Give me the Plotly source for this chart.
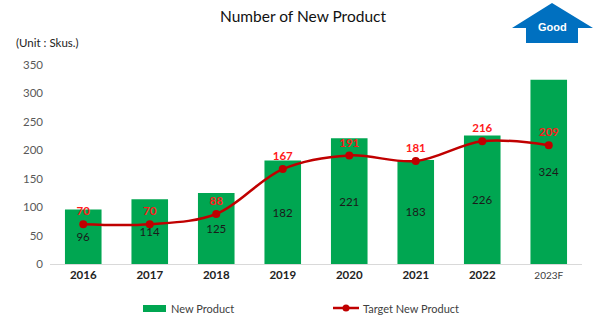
import plotly.graph_objects as go

years = ["2016", "2017", "2018", "2019", "2020", "2021", "2022", "2023F"]
new_product = [96, 114, 125, 182, 221, 183, 226, 324]
target_new_product = [70, 70, 88, 167, 191, 181, 216, 209]
y_ticks = [0, 50, 100, 150, 200, 250, 300, 350]

W, H = 597, 320
L, R, T, B = 50, 15, 65, 56
PW, PH = W - L - R, H - T - B


def px(x):
    return (x - L) / PW


def py(y):
    return (H - B - y) / PH


FONT = "Lato"
tick_text = [f"<b>{y}</b>" if not y.endswith("F") else f"<span style='font-size:10px;color:#404040'>{y}</span>" for y in years]

fig = go.Figure()
fig.add_trace(go.Bar(
    x=years, y=new_product, name="New Product",
    marker=dict(color="#00A651", line=dict(width=0)),
    width=0.55,
    text=[str(v) for v in new_product], textposition="inside",
    insidetextanchor="middle",
    textfont=dict(color="#1a1a1a", size=11.5, family=FONT),
    showlegend=False,
))
fig.add_trace(go.Scatter(
    x=years, y=target_new_product, name="Target New Product",
    mode="lines+markers+text",
    line=dict(color="#C00000", width=2.5, shape="spline", smoothing=1),
    marker=dict(color="#C00000", size=8),
    text=[str(v) for v in target_new_product], textposition="top center",
    textfont=dict(color="#FF1A1A", size=11.5, family=FONT, weight="bold"),
    showlegend=False,
))

fig.update_layout(
    width=W, height=H,
    margin=dict(l=L, r=R, t=T, b=B),
    paper_bgcolor="white", plot_bgcolor="white",
    font=dict(family=FONT, size=11, color="#595959"),
    bargap=0.45,
    title=dict(text="Number of New Product", x=px(303), xref="paper", xanchor="center",
               y=1 - 17 / H, yanchor="middle",
               font=dict(family=FONT, size=15.5, color="#111111")),
)
fig.update_xaxes(
    tickmode="array", tickvals=years, ticktext=tick_text,
    tickfont=dict(color="#222222", size=11.5, family=FONT),
    showline=True, linecolor="#D9D9D9", linewidth=1,
    showgrid=False, ticks="", zeroline=False,
)
fig.update_yaxes(
    range=[0, 350], tickmode="array", tickvals=y_ticks,
    tickfont=dict(color="#595959", size=11.5, family=FONT),
    showgrid=False, zeroline=False, showline=False, ticks="",
    ticklabelstandoff=6,
)

# unit label
fig.add_annotation(text="(Unit : Skus.)", xref="paper", yref="paper",
                   x=px(14), y=py(43), xanchor="left", yanchor="middle",
                   showarrow=False, font=dict(family=FONT, size=11.5, color="#222222"))

# "Good" arrow
arrow_path = "M {} {} L {} {} L {} {} L {} {} L {} {} L {} {} L {} {} Z".format(
    px(552), py(3), px(593), py(28), px(578), py(28), px(578), py(43),
    px(526), py(43), px(526), py(28), px(512), py(28))
fig.add_shape(type="path", path=arrow_path, xref="paper", yref="paper",
              fillcolor="#0070C0", line=dict(width=0))
fig.add_annotation(text="<b>Good</b>", xref="paper", yref="paper",
                   x=px(552), y=py(27), xanchor="center", yanchor="middle",
                   showarrow=False, font=dict(family="Liberation Sans", size=11, color="white"))

# custom legend
fig.add_shape(type="rect", xref="paper", yref="paper",
              x0=px(143), x1=px(166), y0=py(305), y1=py(312),
              fillcolor="#00A651", line=dict(width=0))
fig.add_annotation(text="New Product", xref="paper", yref="paper",
                   x=px(169), y=py(308), xanchor="left", yanchor="middle",
                   showarrow=False, font=dict(family=FONT, size=11, color="#404040"))
fig.add_shape(type="line", xref="paper", yref="paper",
              x0=px(333), x1=px(359), y0=py(308), y1=py(308),
              line=dict(color="#C00000", width=2.5))
fig.add_shape(type="circle", xref="paper", yref="paper",
              x0=px(342.5), x1=px(349.5), y0=py(304.5), y1=py(311.5),
              fillcolor="#C00000", line=dict(width=0))
fig.add_annotation(text="Target New Product", xref="paper", yref="paper",
                   x=px(361), y=py(308), xanchor="left", yanchor="middle",
                   showarrow=False, font=dict(family=FONT, size=11, color="#404040"))

fig.write_html("out.html")
